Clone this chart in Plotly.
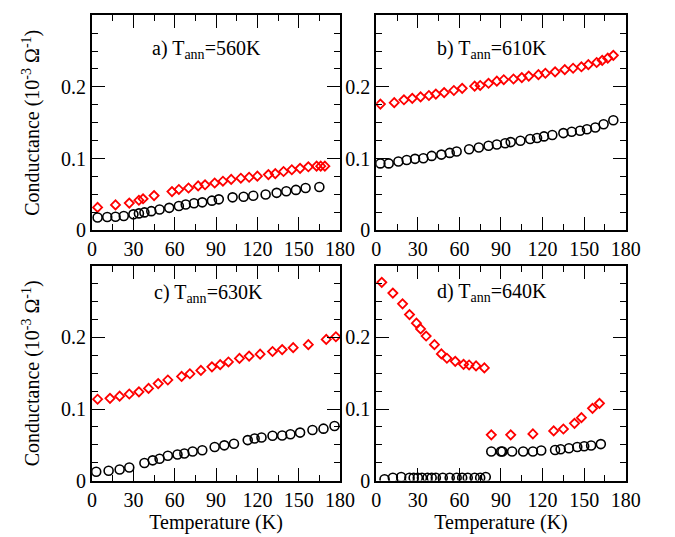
import plotly.graph_objects as go

# ---------------- data ----------------
# panel a) T_ann = 560K
a_red_x = [4, 17, 27, 34, 37, 45, 58, 63, 70, 77, 82, 89, 95, 101, 108, 114, 120, 128, 133, 139, 145, 151, 157, 163, 166, 169]
a_red_y = [0.032, 0.0355, 0.038, 0.042, 0.044, 0.0485, 0.054, 0.057, 0.059, 0.062, 0.0635, 0.066, 0.0685, 0.071, 0.0727, 0.074, 0.0755, 0.0777, 0.079, 0.082, 0.0845, 0.0864, 0.0886, 0.0895, 0.0895, 0.0895]
a_blk_x = [4, 11, 17, 23, 30, 34, 38, 43, 49, 56, 63, 68, 74, 80, 87, 92, 102, 110, 117, 126, 134, 141, 148, 155, 165]
a_blk_y = [0.018, 0.0186, 0.019, 0.020, 0.0223, 0.0236, 0.025, 0.0268, 0.029, 0.0314, 0.034, 0.036, 0.0377, 0.039, 0.0414, 0.0432, 0.046, 0.0468, 0.0482, 0.050, 0.0523, 0.0545, 0.0564, 0.059, 0.0605]

# panel b) T_ann = 610K
b_red_x = [3, 13, 20, 26, 32, 38, 43, 49, 56, 62, 71, 75, 81, 87, 92, 99, 105, 110, 117, 122, 129, 136, 142, 148, 153, 159, 163, 167, 171]
b_red_y = [0.176, 0.178, 0.182, 0.184, 0.186, 0.188, 0.190, 0.192, 0.195, 0.198, 0.201, 0.202, 0.205, 0.208, 0.210, 0.211, 0.213, 0.215, 0.217, 0.219, 0.221, 0.224, 0.226, 0.228, 0.231, 0.234, 0.237, 0.240, 0.244]
b_blk_x = [3, 9, 16, 22, 28, 34, 40, 47, 53, 58, 67, 74, 81, 87, 93, 97, 104, 111, 116, 121, 127, 135, 141, 147, 152, 158, 164, 171]
b_blk_y = [0.0933, 0.0933, 0.096, 0.098, 0.0997, 0.1006, 0.1038, 0.1056, 0.108, 0.110, 0.113, 0.1156, 0.118, 0.1197, 0.1215, 0.123, 0.125, 0.1274, 0.1288, 0.131, 0.133, 0.1356, 0.1374, 0.1388, 0.141, 0.1433, 0.148, 0.1535]

# panel c) T_ann = 630K
c_red_x = [4, 13, 20, 27, 34, 41, 48, 55, 65, 71, 79, 87, 93, 99, 107, 114, 122, 131, 138, 146, 157, 170, 177]
c_red_y = [0.1137, 0.115, 0.118, 0.121, 0.124, 0.1288, 0.1356, 0.1406, 0.1456, 0.1493, 0.154, 0.159, 0.162, 0.1658, 0.1708, 0.174, 0.1767, 0.1804, 0.1831, 0.1858, 0.190, 0.1973, 0.201]
c_blk_x = [3, 12, 20, 27, 38, 44, 49, 55, 62, 67, 73, 80, 89, 96, 103, 113, 118, 123, 131, 138, 144, 151, 160, 168, 176]
c_blk_y = [0.0123, 0.0137, 0.0155, 0.0183, 0.0247, 0.0283, 0.0306, 0.0347, 0.0365, 0.0379, 0.0406, 0.0425, 0.047, 0.0493, 0.0516, 0.0566, 0.0589, 0.0603, 0.0626, 0.063, 0.0648, 0.0671, 0.0708, 0.0726, 0.0763]

# panel d) T_ann = 640K
d_red_x = [4, 12, 19, 24, 29, 32, 36, 42, 47, 51, 57, 63, 67, 72, 78, 83, 97, 113, 128, 135, 143, 148, 156, 161]
d_red_y = [0.277, 0.262, 0.247, 0.232, 0.220, 0.212, 0.202, 0.190, 0.177, 0.171, 0.1667, 0.1625, 0.1616, 0.1603, 0.1575, 0.064, 0.064, 0.0653, 0.0694, 0.0721, 0.080, 0.088, 0.101, 0.108]
d_blk_x = [6, 12, 18, 24, 27, 30, 33, 37, 40, 43, 48, 53, 58, 62, 66, 71, 75, 79, 83, 90, 91, 98, 106, 113, 119, 129, 133, 139, 145, 150, 155, 162]
d_blk_y = [0.002, 0.004, 0.005, 0.004, 0.004, 0.004, 0.004, 0.004, 0.004, 0.004, 0.004, 0.004, 0.004, 0.004, 0.004, 0.004, 0.004, 0.005, 0.0406, 0.0406, 0.0406, 0.0406, 0.0406, 0.0406, 0.042, 0.0428, 0.0438, 0.0452, 0.047, 0.048, 0.049, 0.051]

panel_labels = ["a) T<sub>ann</sub>=560K", "b) T<sub>ann</sub>=610K",
                "c) T<sub>ann</sub>=630K", "d) T<sub>ann</sub>=640K"]
y_tickvals = [0, 0.1, 0.2]
y_ticktext = ["0", "0.1", "0.2"]
x_tickvals = [0, 30, 60, 90, 120, 150, 180]
x_ticktext = ["0", "30", "60", "90", "120", "150", "180"]
y_title = "Conductance (10<sup>-3</sup> Ω<sup>-1</sup>)"
x_title = "Temperature (K)"

FONT = "Liberation Serif"
FS = 20
W, H = 675, 537

panels = [
    (a_red_x, a_red_y, a_blk_x, a_blk_y),
    (b_red_x, b_red_y, b_blk_x, b_blk_y),
    (c_red_x, c_red_y, c_blk_x, c_blk_y),
    (d_red_x, d_red_y, d_blk_x, d_blk_y),
]

# pixel geometry of the panels (left, right, top, bottom)
px_x = [(81.5, 337.0), (374.3, 631.5)]
px_y = [(7.3, 227.0), (263.3, 482.5)]

fig = go.Figure()
layout = dict(
    width=W, height=H,
    margin=dict(l=0, r=0, t=0, b=0),
    paper_bgcolor="white", plot_bgcolor="white",
    showlegend=False,
    font=dict(family=FONT, size=FS, color="black"),
    annotations=[],
)

ann_pos = [(0.46, 0.842), (0.465, 0.842), (0.469, 0.87), (0.465, 0.878)]

for i, (rx, ry, bx, by) in enumerate(panels):
    row, col = divmod(i, 2)
    n = "" if i == 0 else str(i + 1)
    xa, ya = "x" + n, "y" + n
    fig.add_trace(go.Scatter(x=bx, y=by, xaxis=xa, yaxis=ya, mode="markers",
                             marker=dict(symbol="circle-open", size=9, color="black",
                                         line=dict(width=1.6, color="black"))))
    fig.add_trace(go.Scatter(x=rx, y=ry, xaxis=xa, yaxis=ya, mode="markers",
                             marker=dict(symbol="diamond-open", size=7, color="red",
                                         line=dict(width=1.8, color="red"))))
    x0, x1 = px_x[col]
    t, b = px_y[row]
    common = dict(showline=True, linewidth=2, linecolor="black", mirror="allticks",
                  ticks="inside", ticklen=13, tickwidth=1.3, tickcolor="black",
                  showgrid=False, zeroline=False,
                  tickfont=dict(family=FONT, size=FS, color="black"))
    xax = dict(common, domain=[x0 / W, x1 / W], range=[0, 180], anchor=ya,
               tickvals=x_tickvals, ticktext=x_ticktext,
               minor=dict(dtick=15, tick0=0, ticklen=6, tickwidth=1.3, tickcolor="black",
                          ticks="inside", showgrid=False))
    yax = dict(common, domain=[1 - b / H, 1 - t / H], range=[0, 0.3], anchor=xa,
               tickvals=y_tickvals, ticktext=y_ticktext,
               minor=dict(dtick=0.025, tick0=0, ticklen=6, tickwidth=1.3, tickcolor="black",
                          ticks="inside", showgrid=False))
    if row == 1:
        xax["title"] = dict(text=x_title, standoff=2, font=dict(family=FONT, size=FS))
    if col == 0:
        yax["title"] = dict(text=y_title, standoff=16, font=dict(family=FONT, size=FS))
    layout["xaxis" + n] = xax
    layout["yaxis" + n] = yax
    ax_, ay_ = ann_pos[i]
    layout["annotations"].append(dict(
        text=panel_labels[i], xref=xa + " domain", yref=ya + " domain",
        x=ax_, y=ay_, xanchor="center", yanchor="middle", showarrow=False,
        font=dict(family=FONT, size=FS, color="black")))

fig.update_layout(**layout)
fig.write_html("out.html")
